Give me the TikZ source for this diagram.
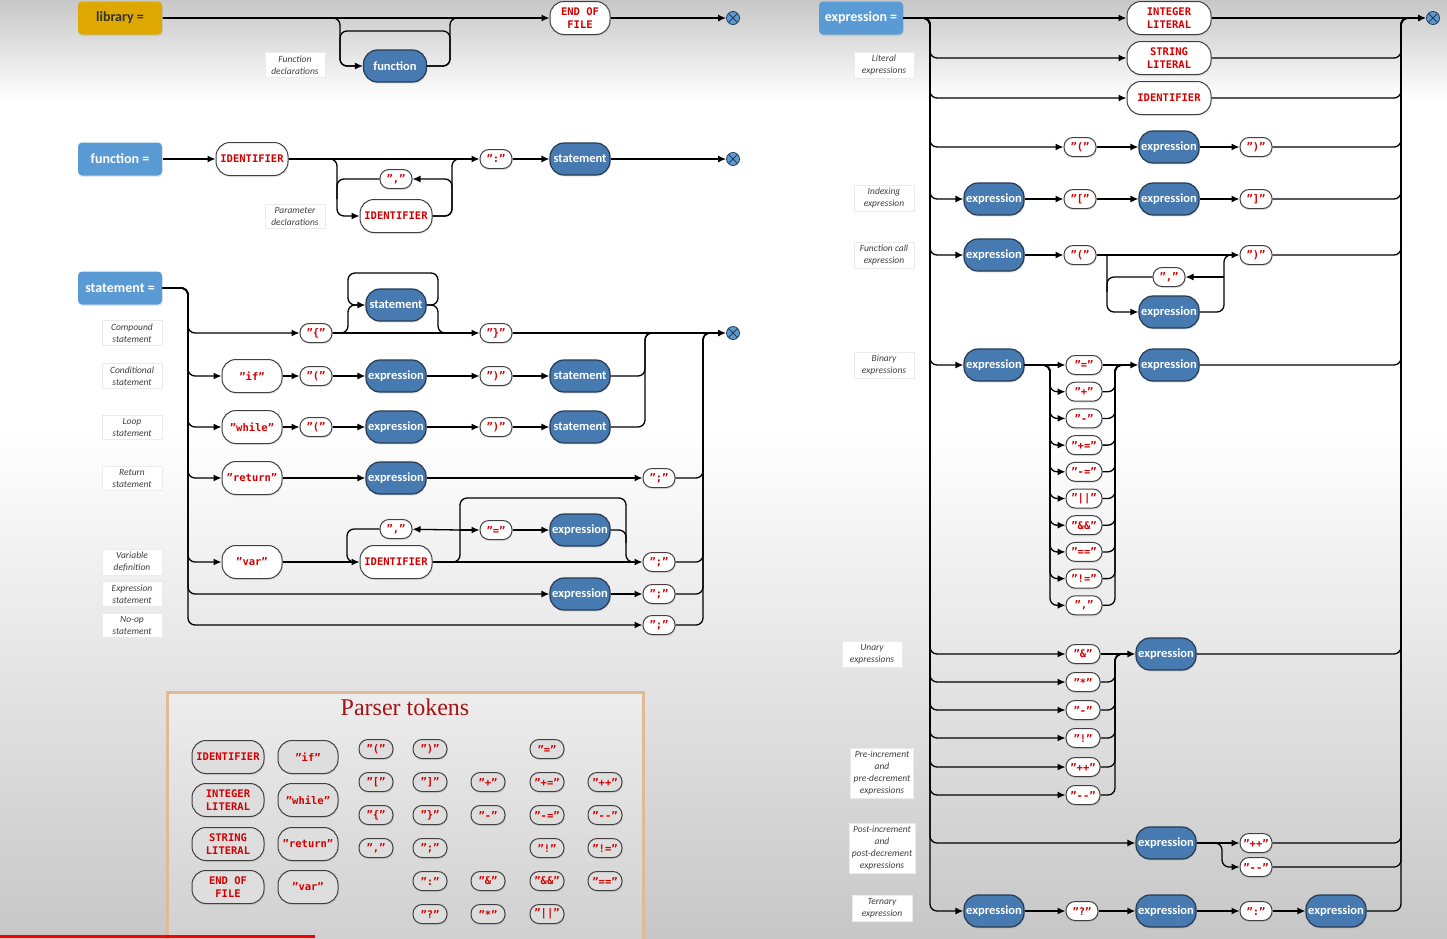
\documentclass[tikz,border=0pt]{standalone}
\usepackage{fontspec}
\setsansfont{Carlito}
\newfontfamily\tokfont{DejaVu Sans Mono}[Ligatures=TeXOff]
\newfontfamily\titlefont{Liberation Serif}
\usetikzlibrary{arrows.meta,positioning,shapes.misc,shadows}

\definecolor{headblue}{RGB}{91,155,213}
\definecolor{ntblue}{RGB}{70,122,176}
\definecolor{ntedge}{RGB}{38,58,82}
\definecolor{libgold}{RGB}{222,168,0}
\definecolor{tokred}{RGB}{212,0,0}
\definecolor{boxtan}{RGB}{224,186,152}
\definecolor{titlered}{RGB}{165,20,20}

\tikzset{
    soft/.style={drop shadow={opacity=0.18, shadow xshift=0.8pt, shadow yshift=-1.6pt}},
    head/.style={rectangle, rounded corners=4pt, fill=headblue, text=white, soft,
        font=\sffamily\bfseries\fontsize{14}{16}\selectfont, minimum width=84, minimum height=33, inner sep=0pt},
    nterm/.style={rectangle, rounded corners=14pt, draw=ntedge, line width=1.2pt, fill=ntblue, text=white, soft,
        font=\sffamily\bfseries\fontsize{12.5}{14}\selectfont, minimum width=60, minimum height=32, inner sep=0pt},
    term/.style={rectangle, rounded corners=14pt, draw=black!75, line width=1pt, fill=white, text=tokred, soft,
        font=\tokfont\bfseries\fontsize{10.5}{13}\selectfont, minimum width=60, minimum height=33,
        inner sep=0pt, align=center},
    sym/.style={term, rounded corners=9pt, minimum width=32, minimum height=19},
    ptok/.style={term, fill=black!13},
    psym/.style={sym, fill=black!13},
    note/.style={rectangle, fill=white, draw=black!8, line width=0.6pt, text=black!75,
        font=\sffamily\itshape\fontsize{9.5}{12}\selectfont, align=center, minimum width=60, inner sep=3pt},
    endmark/.style={circle, draw=ntedge, line width=0.8pt, fill=headblue, minimum size=13, inner sep=0pt,
        path picture={\draw[ntedge, line width=0.8pt]
            (path picture bounding box.north west) -- (path picture bounding box.south east)
            (path picture bounding box.north east) -- (path picture bounding box.south west);}},
    arr/.style={-{Latex[length=8pt,width=7pt]}},
    rc/.style={rounded corners=7pt}
}

\begin{document}
\begin{tikzpicture}[x=1pt,y=-1pt,line width=1.3pt]
    % background
    \fill[white] (0,0) rectangle (1447,938);
    \shade[top color=black!22, bottom color=white] (0,0) rectangle (1447,100);
    \shade[top color=white, bottom color=black!22] (0,430) rectangle (1447,938);
    \useasboundingbox (0,0) rectangle (1447,938);

    % library
    \node[head, fill=libgold, text=black!80] (lhead) at (120,18) {library =};
    \node[term] (leof) at (580,18) {END OF\\FILE};
    \node[nterm, minimum width=63] (lfun) at (395,66) {function};
    \node[endmark] (lend) at (733,18) {};
    \node[note] (lnote) at (295,65) {Function\\declarations};
    \coordinate (ltl) at (340,31);
    \coordinate (ltr) at (450,31);

    \draw[arr] (lhead) -- (leof);
    \draw[arr] (leof) -- (lend);
    \draw[arr,rc] (lhead.east) -| (ltl |- lfun) -- (lfun);
    \draw[rc] (lfun.east) -| (ltr |- leof) -- ++(12,0);
    \draw[rc] (lfun.east) -| (ltr) -- (ltl) |- ([xshift=-8]lfun.west);

    % function
    \node[head] (fhead) at (120,159) {function =};
    \node[term, minimum width=72] (fid) at (252,159) {IDENTIFIER};
    \node[sym] (fcolon) at (496,159) {”:”};
    \node[nterm] (fstmt) at (580,159) {statement};
    \node[endmark] (fend) at (733,159) {};
    \node[sym] (fcomma) at (396,179) {”,”};
    \node[term, minimum width=72] (fpar) at (396,216) {IDENTIFIER};
    \node[note] (fnote) at (295,216) {Parameter\\declarations};
    \coordinate (fin) at (337,179);
    \coordinate (fout) at (452,179);

    \draw[arr] (fhead) -- (fid);
    \draw[arr] (fid) -- (fcolon);
    \draw[arr] (fcolon) -- (fstmt);
    \draw[arr] (fstmt) -- (fend);
    \draw[arr,rc] (fid.east) -| (fin |- fpar) -- (fpar);
    \draw[rc] (fpar.east) -| (fout |- fcolon) -- ++(12,0);
    \draw[arr,rc] (fpar.east) -| (fout) -- (fcomma);
    \draw[rc] (fcomma.west) -- (fin) -- ++(0,20);

    % statement
    \node[head] (shead) at (120,288) {statement =};
    \coordinate (sL) at (188,288);
    \coordinate (sA) at (645,333);
    \coordinate (sB) at (703,333);
    \coordinate (sbl) at (348,273);
    \coordinate (sbr) at (438,273);

    \node[sym] (sopen) at (316,333) {”\{”};
    \node[nterm] (sbody) at (396,305) {statement};
    \node[sym] (sclose) at (496,333) {”\}”};
    \node[endmark] (send) at (733,333) {};

    \node[term] (sif) at (252,376) {”if”};
    \node[sym] (sip) at (316,376) {”(”};
    \node[nterm] (sie) at (396,376) {expression};
    \node[sym] (sic) at (496,376) {”)”};
    \node[nterm] (sis) at (580,376) {statement};

    \node[term] (swh) at (252,427) {”while”};
    \node[sym] (swp) at (316,427) {”(”};
    \node[nterm] (swe) at (396,427) {expression};
    \node[sym] (swc) at (496,427) {”)”};
    \node[nterm] (sws) at (580,427) {statement};

    \node[term] (sret) at (252,478) {”return”};
    \node[nterm] (sre) at (396,478) {expression};
    \node[sym] (srs) at (659,478) {”;”};

    \node[term] (svar) at (252,562) {”var”};
    \node[term, minimum width=72] (svid) at (396,562) {IDENTIFIER};
    \node[sym] (svc) at (396,529) {”,”};
    \node[sym] (sveq) at (496,530) {”=”};
    \node[nterm] (svex) at (580,530) {expression};
    \node[sym] (svs) at (659,562) {”;”};
    \coordinate (vL) at (347,529);
    \coordinate (vJ) at (460,530);
    \coordinate (vR) at (626,498);

    \node[nterm] (sxe) at (580,594) {expression};
    \node[sym] (sxs) at (659,594) {”;”};
    \node[sym] (sns) at (659,625) {”;”};

    \node[note] (sn1) at (132,333) {Compound\\statement};
    \node[note] (sn2) at (132,376) {Conditional\\statement};
    \node[note] (sn3) at (132,427) {Loop\\statement};
    \node[note] (sn4) at (132,478) {Return\\statement};
    \node[note] (sn5) at (132,562) {Variable\\definition};
    \node[note] (sn6) at (132,594) {Expression\\statement};
    \node[note] (sn7) at (132,625) {No-op\\statement};

    \foreach \t in {sopen,sif,swh,sret,svar,sxe,sns}
        \draw[arr,rc] (shead.east) -| (sL |- \t) -- (\t);

    \draw[arr] (sopen) -- (sclose);
    \draw[arr,rc] (sopen.east) -| (sbl |- sbody) -- (sbody);
    \draw[rc] (sbody.east) -| (sbr |- sclose) -- ++(14,0);
    \draw[rc] (sbody.east) -| (sbr) -- (sbl) |- ([xshift=-8]sbody.west);
    \draw[arr] (sclose) -- (send);

    \draw[arr] (sif) -- (sip);
    \draw[arr] (sip) -- (sie);
    \draw[arr] (sie) -- (sic);
    \draw[arr] (sic) -- (sis);
    \draw[arr] (swh) -- (swp);
    \draw[arr] (swp) -- (swe);
    \draw[arr] (swe) -- (swc);
    \draw[arr] (swc) -- (sws);
    \foreach \t in {sis,sws}
        \draw[rc] (\t.east) -| (sA) -- ++(14,0);

    \draw[arr] (sret) -- (sre);
    \draw[arr] (sre) -- (srs);

    \draw[arr] (svar) -- (svid);
    \draw[arr] (svid) -- (svs);
    \draw[rc] (svid.east) -| (vJ);
    \draw[arr] (vJ) -- (sveq);
    \draw[arr] (vJ) -- (svc);
    \draw[arr] (sveq) -- (svex);
    \draw[rc] (svex.east) -| (vR |- svs) -- ++(12,0);
    \draw[rc] (vJ) |- (vR) -- ++(0,45);
    \draw[rc] (svc.west) -| (vL |- svid) -- ++(10,0);

    \draw[arr] (sxe) -- (sxs);
    \foreach \t in {srs,svs,sxs,sns}
        \draw[rc] (\t.east) -| (sB) -- ++(14,0);

    % expression
    \node[head] (ehead) at (861,18) {expression =};
    \coordinate (eL) at (930,18);
    \coordinate (eR) at (1401,18);
    \node[endmark] (eend) at (1433,18) {};

    \node[term, minimum width=84] (eint) at (1169,18) {INTEGER\\LITERAL};
    \node[term, minimum width=84] (estr) at (1169,58) {STRING\\LITERAL};
    \node[term, minimum width=84] (eid) at (1169,98) {IDENTIFIER};

    \node[sym] (epo) at (1080,147) {”(”};
    \node[nterm] (epe) at (1169,147) {expression};
    \node[sym] (epc) at (1256,147) {”)”};

    \node[nterm] (eix1) at (994,199) {expression};
    \node[sym] (eixo) at (1080,199) {”[”};
    \node[nterm] (eix2) at (1169,199) {expression};
    \node[sym] (eixc) at (1256,199) {”]”};

    \node[nterm] (ecf) at (994,255) {expression};
    \node[sym] (ecfo) at (1080,255) {”(”};
    \node[sym] (ecfc) at (1256,255) {”)”};
    \node[sym] (ecfk) at (1169,277) {”,”};
    \node[nterm] (ecfa) at (1169,312) {expression};
    \coordinate (cL) at (1107,277);
    \coordinate (cR) at (1224,277);

    \node[nterm] (ebin1) at (994,365) {expression};
    \node[nterm] (ebin2) at (1169,365) {expression};
    \coordinate (bL) at (1050,365);
    \coordinate (bR) at (1115,365);
    \foreach \s [count=\i from 0] in {{”=”},{”+”},{”-”},{”+=”},{”-=”},{”||”},{”\&\&”},{”==”},{”!=”},{”,”}}
        \node[sym, minimum width=36] (bo\i) at (1084,365+26.7*\i) {\s};

    \node[nterm] (eun) at (1166,654) {expression};
    \coordinate (uR) at (1115,654);
    \foreach \y/\s [count=\i from 0] in {654/{”\&”},682/{”*”},710/{”-”},738/{”!”},767/{”++”},795/{”--”}}
        \node[sym, minimum width=34] (uo\i) at (1083,\y) {\s};

    \node[nterm] (epost) at (1166,843) {expression};
    \node[sym] (epp) at (1256,843) {”++”};
    \node[sym] (epm) at (1256,867) {”--”};
    \coordinate (pJ) at (1222,843);

    \node[nterm] (eter1) at (994,911) {expression};
    \node[sym] (eterq) at (1082,911) {”?”};
    \node[nterm] (eter2) at (1166,911) {expression};
    \node[sym] (eterc) at (1256,911) {”:”};
    \node[nterm] (eter3) at (1336,911) {expression};

    \node[note] (en1) at (884,65) {Literal\\expressions};
    \node[note] (en2) at (884,198) {Indexing\\expression};
    \node[note] (en3) at (884,255) {Function call\\expression};
    \node[note] (en4) at (884,365) {Binary\\expressions};
    \node[note] (en5) at (872,654) {Unary\\expressions};
    \node[note] (en6) at (882,773) {Pre-increment\\and\\pre-decrement\\expressions};
    \node[note] (en7) at (882,848) {Post-increment\\and\\post-decrement\\expressions};
    \node[note] (en8) at (882,908) {Ternary\\expression};

    \draw[arr] (ehead) -- (eint);
    \draw[arr] (eint) -- (eend);
    \foreach \t in {estr,eid,epo,eix1,ecf,ebin1,uo0,uo1,uo2,uo3,uo4,uo5,epost,eter1}
        \draw[arr,rc] (ehead.east) -| (eL |- \t) -- (\t);
    \foreach \t in {estr,eid,epc,eixc,ecfc,ebin2,eun,epp,epm,eter3}
        \draw[rc] (\t.east) -| (eR) -- ++(14,0);

    \draw[arr] (epo) -- (epe);
    \draw[arr] (epe) -- (epc);

    \draw[arr] (eix1) -- (eixo);
    \draw[arr] (eixo) -- (eix2);
    \draw[arr] (eix2) -- (eixc);

    \draw[arr] (ecf) -- (ecfo);
    \draw[arr] (ecfo) -- (ecfc);
    \draw[arr,rc] (cL |- ecfo) -- (cL |- ecfa) -- (ecfa);
    \draw[rc] (ecfa.east) -| (cR |- ecfc) -- ++(12,0);
    \draw[arr] (cR) -- (ecfk);
    \draw[rc] (ecfk.west) -- (cL) -- ++(0,15);

    \draw[arr] (ebin1) -- (bo0);
    \draw[arr] (bo0) -- (ebin2);
    \foreach \i in {1,...,9} {
        \draw[arr,rc] (ebin1.east) -| (bL |- bo\i) -- (bo\i);
        \draw[rc] (bo\i.east) -| (bR |- ebin2) -- ++(12,0);
    }

    \draw[arr] (uo0) -- (eun);
    \foreach \i in {1,...,5}
        \draw[rc] (uo\i.east) -| (uR |- eun) -- ++(12,0);

    \draw[arr] (epost) -- (epp);
    \draw[arr,rc] (epost.east) -| (pJ |- epm) -- (epm);

    \draw[arr] (eter1) -- (eterq);
    \draw[arr] (eterq) -- (eter2);
    \draw[arr] (eter2) -- (eterc);
    \draw[arr] (eterc) -- (eter3);

    % parser tokens
    \node[draw=boxtan, line width=3pt, top color=black!7, bottom color=black!19,
        minimum width=476, minimum height=262, anchor=north west, inner sep=0pt] (tokbox) at (166,691) {};
    \node[text=titlered, font=\titlefont\fontsize{24}{26}\selectfont] (toktitle) at (405,707) {Parser tokens};

    \node[ptok, minimum width=72] (pid) at (228,757) {IDENTIFIER};
    \node[ptok, minimum width=72] (pint) at (228,800) {INTEGER\\LITERAL};
    \node[ptok, minimum width=72] (pstr) at (228,844) {STRING\\LITERAL};
    \node[ptok, minimum width=72] (peof) at (228,887) {END OF\\FILE};
    \node[ptok] (pif) at (308,757) {”if”};
    \node[ptok] (pwh) at (308,800) {”while”};
    \node[ptok] (pret) at (308,844) {”return”};
    \node[ptok] (pvar) at (308,887) {”var”};

    \foreach \x/\y/\s [count=\i] in {376/749/{”(”},376/782/{”[”},376/815/{”\{”},376/848/{”,”},
            430/749/{”)”},430/782/{”]”},430/815/{”\}”},430/848/{”;”},430/881/{”:”},430/914/{”?”},
            488/782/{”+”},488/815/{”-”},488/881/{”\&”},488/914/{”*”},
            547/749/{”=”},547/782/{”+=”},547/815/{”-=”},547/848/{”!”},547/881/{”\&\&”},547/914/{”||”},
            605/782/{”++”},605/815/{”--”},605/848/{”!=”},605/881/{”==”}}
        \node[psym, minimum width=34] (ps\i) at (\x,\y) {\s};

    \fill[red] (0,935) rectangle (315,938);
\end{tikzpicture}
\end{document}
